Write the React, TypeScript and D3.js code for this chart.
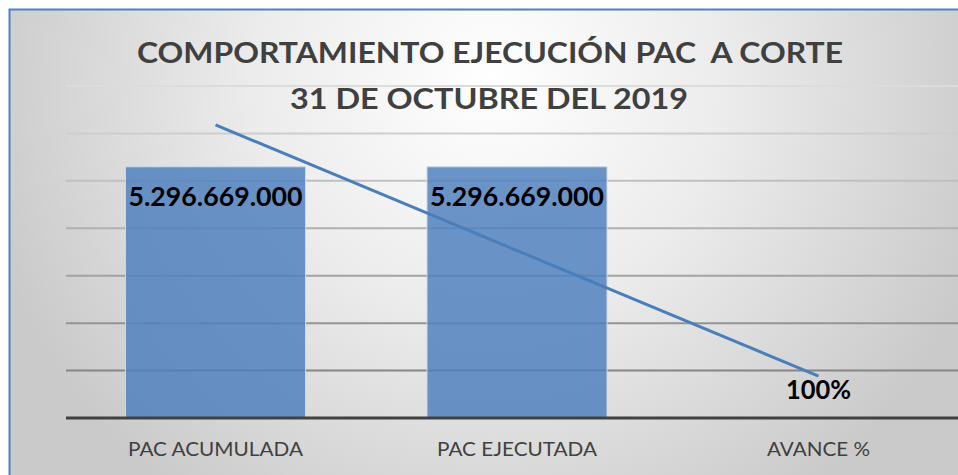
import React from "react";
import * as d3 from "d3";

// chart data
const categories = ["PAC ACUMULADA", "PAC EJECUTADA", "AVANCE %"];
const barValues = [5296669000, 5296669000, 1];
const barLabels = ["5.296.669.000", "5.296.669.000", "100%"];
const titleLines = ["COMPORTAMIENTO EJECUCIÓN PAC  A CORTE", "31 DE OCTUBRE DEL 2019"];
const yTicks = [0, 1e9, 2e9, 3e9, 4e9, 5e9, 6e9, 7e9];

const W = 958;
const H = 475;
const font = "Lato, 'Open Sans', sans-serif";

// linear trendline over the bar series (excel style)
function linearTrend(vals: number[]) {
  const xs = vals.map((_, i) => i + 1);
  const mx = d3.mean(xs) as number;
  const my = d3.mean(vals) as number;
  const num = d3.sum(xs, (x, i) => (x - mx) * (vals[i] - my));
  const den = d3.sum(xs, (x) => (x - mx) * (x - mx));
  const slope = num / den;
  return (x: number) => my + slope * (x - mx);
}

export default function App() {
  const x = d3.scaleBand<string>()
    .domain(categories)
    .range([64.75, 969.25])
    .paddingInner(0.403)
    .paddingOuter(0.2015);
  const y = d3.scaleLinear().domain([0, 7e9]).range([418, 86]);

  const trend = linearTrend(barValues);
  const trendPts: [number, number][] = categories.map((c, i) => [
    (x(c) as number) + x.bandwidth() / 2,
    y(trend(i + 1)),
  ]);
  const line = d3.line();

  return (
    <svg width={W} height={H} style={{ position: "absolute", left: 0, top: 0, display: "block" }}>
      <defs>
        <radialGradient id="bg" gradientUnits="userSpaceOnUse" cx={489} cy={80} r={520}>
          <stop offset="0" stopColor="#ffffff" />
          <stop offset="0.45" stopColor="#ececec" />
          <stop offset="1" stopColor="#cacaca" />
        </radialGradient>
        <linearGradient id="grid" gradientUnits="userSpaceOnUse" x1={0} y1={86} x2={0} y2={372}>
          <stop offset="0" stopColor="#dcdcdc" />
          <stop offset="1" stopColor="#858585" />
        </linearGradient>
      </defs>
      <rect x={0} y={0} width={W} height={H} fill="#ffffff" />
      <rect x={9.5} y={9.5} width={960} height={480} fill="url(#bg)" stroke="#4f81bd" strokeWidth={2} />

      {/* gridlines */}
      {yTicks.slice(1).map((t) => (
        <line key={t} x1={66} x2={970} y1={y(t)} y2={y(t)} stroke="url(#grid)" strokeWidth={2} />
      ))}

      {/* bars */}
      {categories.map((c, i) => (
        <rect
          key={c}
          x={x(c)}
          y={y(barValues[i])}
          width={x.bandwidth()}
          height={y(0) - y(barValues[i])}
          fill="#4f81bd"
          fillOpacity={0.84}
          stroke="#c9d8ec"
          strokeWidth={1}
        />
      ))}

      {/* axis line */}
      <line x1={66} x2={970} y1={y(0)} y2={y(0)} stroke="#404040" strokeWidth={3} />

      {/* trendline */}
      <path d={line(trendPts) || ""} fill="none" stroke="#4a7ebb" strokeWidth={3} />

      {/* data labels */}
      {categories.map((c, i) => {
        const cx = (x(c) as number) + x.bandwidth() / 2;
        const big = i < 2;
        return (
          <text
            key={c}
            x={cx}
            y={big ? y(barValues[i]) + 39 : 399}
            textAnchor="middle"
            fontFamily={font}
            fontWeight={700}
            fontSize={27}
            fill="#000000"
            textLength={big ? 174 : 65}
            lengthAdjust="spacingAndGlyphs"
          >
            {barLabels[i]}
          </text>
        );
      })}

      {/* category labels */}
      {categories.map((c, i) => (
        <text
          key={c}
          x={(x(c) as number) + x.bandwidth() / 2}
          y={456}
          textAnchor="middle"
          fontFamily={font}
          fontSize={20}
          fill="#404040"
          textLength={[175, 160, 103][i]}
          lengthAdjust="spacingAndGlyphs"
        >
          {c}
        </text>
      ))}

      {/* title */}
      <text x={490} y={63} textAnchor="middle" fontFamily={font} fontWeight={700} fontSize={28}
        fill="#404040" textLength={706} lengthAdjust="spacingAndGlyphs" style={{ whiteSpace: "pre" }}>
        {titleLines[0]}
      </text>
      <text x={489} y={109} textAnchor="middle" fontFamily={font} fontWeight={700} fontSize={28}
        fill="#404040" textLength={398} lengthAdjust="spacingAndGlyphs" style={{ whiteSpace: "pre" }}>
        {titleLines[1]}
      </text>
    </svg>
  );
}
